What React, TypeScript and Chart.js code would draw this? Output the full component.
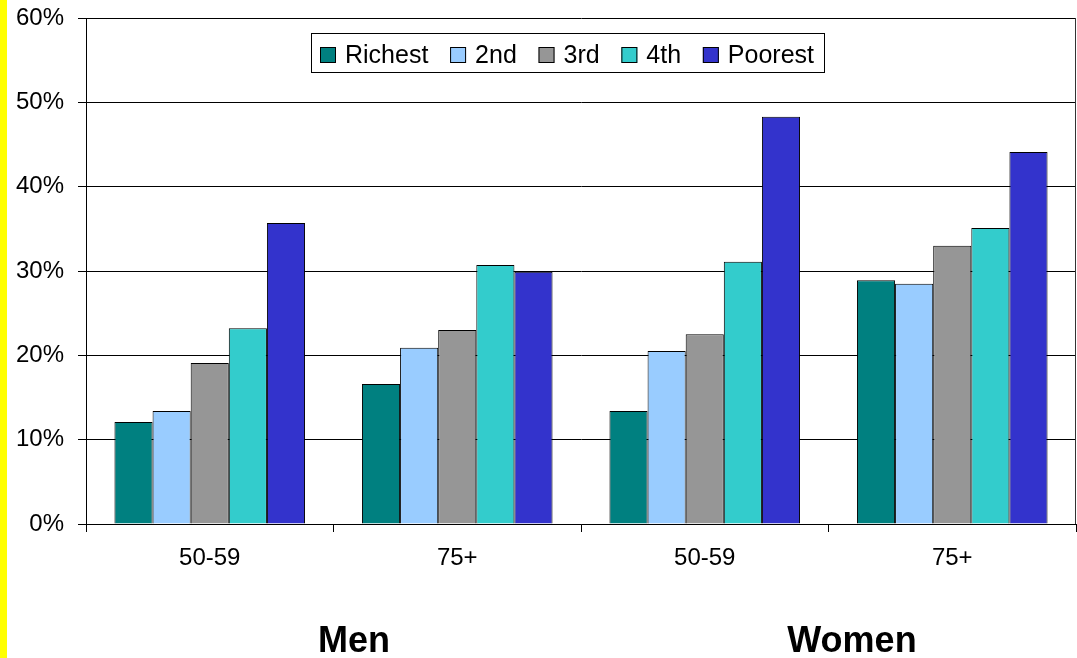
import React, { useEffect, useRef } from "react";
import { Chart, registerables } from "chart.js";

Chart.register(...registerables);

const categories = ["50-59", "75+", "50-59", "75+"];
const richest = [12.1, 16.6, 13.4, 28.9];
const second = [13.4, 20.9, 20.5, 28.5];
const third = [19.1, 23.0, 22.5, 33.0];
const fourth = [23.2, 30.7, 31.1, 35.1];
const poorest = [35.7, 29.9, 48.3, 44.1];
const seriesNames = ["Richest", "2nd", "3rd", "4th", "Poorest"];
const seriesColors = ["#008080", "#99CCFF", "#969696", "#33CCCC", "#3333CC"];
const groupLabels = ["Men", "Women"];
const yMin = 0;
const yMax = 60;
const yStep = 10;

const FONT = "Arial, 'Liberation Sans', sans-serif";

const boxLegendPlugin = {
  id: "boxLegend",
  afterDatasetsDraw(chart: any) {
    const { ctx, chartArea } = chart;
    const left = chartArea.left + 225;
    const top = chartArea.top + 15;
    const width = 513;
    const height = 39;
    ctx.save();
    ctx.fillStyle = "#fff";
    ctx.fillRect(left, top, width, height);
    ctx.strokeStyle = "#000";
    ctx.lineWidth = 1;
    ctx.strokeRect(left + 0.5, top + 0.5, width, height);
    ctx.font = `25px ${FONT}`;
    ctx.textBaseline = "alphabetic";
    const ds = chart.data.datasets;
    const sq = 16;
    const gap = 9;
    const padL = 9;
    const padR = 10;
    const widths = ds.map((d: any) => ctx.measureText(d.label).width);
    const used = widths.reduce((a: number, b: number) => a + b, 0) + ds.length * (sq + gap);
    const itemGap = (width - padL - padR - used) / (ds.length - 1);
    let x = left + padL;
    const cy = top + 22;
    ds.forEach((d: any, i: number) => {
      ctx.fillStyle = d.backgroundColor;
      ctx.fillRect(x, cy - sq / 2, sq, sq);
      ctx.strokeStyle = "#000";
      ctx.strokeRect(x + 0.5, cy - sq / 2 + 0.5, sq - 1, sq - 1);
      x += sq + gap;
      ctx.fillStyle = "#000";
      ctx.fillText(d.label, x, top + 30);
      x += widths[i] + itemGap;
    });
    ctx.restore();
  },
};

const frameAndGroupsPlugin = {
  id: "frameAndGroups",
  afterDraw(chart: any) {
    const { ctx, chartArea } = chart;
    ctx.save();
    ctx.strokeStyle = "#333";
    ctx.lineWidth = 1;
    ctx.beginPath();
    ctx.moveTo(chartArea.right - 0.5, chartArea.top);
    ctx.lineTo(chartArea.right - 0.5, chartArea.bottom);
    ctx.stroke();
    ctx.fillStyle = "#000";
    ctx.font = `bold 36px ${FONT}`;
    ctx.textAlign = "center";
    ctx.textBaseline = "alphabetic";
    const w = chartArea.right - chartArea.left;
    const fr = [0.2707, 0.7737];
    groupLabels.forEach((g, i) => {
      ctx.fillText(g, chartArea.left + w * fr[i], 652);
    });
    ctx.restore();
  },
};

export default function App() {
  const ref = useRef<HTMLCanvasElement | null>(null);
  useEffect(() => {
    if (!ref.current) return;
    const series = [richest, second, third, fourth, poorest];
    const chart = new Chart(ref.current, {
      type: "bar",
      data: {
        labels: categories,
        datasets: series.map((s, i) => ({
          label: seriesNames[i],
          data: s,
          backgroundColor: seriesColors[i],
          borderColor: "#000",
          borderWidth: 1,
          categoryPercentage: 0.77,
          barPercentage: 1.0,
        })),
      },
      options: {
        animation: false,
        responsive: true,
        maintainAspectRatio: false,
        layout: { padding: { top: 18, right: 1, left: 0, bottom: 0 } },
        plugins: {
          legend: { display: false },
          tooltip: { enabled: false },
        },
        scales: {
          x: {
            grid: {
              drawOnChartArea: false,
              drawTicks: true,
              tickLength: 8,
              color: "#000",
            },
            border: { display: true, color: "#000" },
            ticks: {
              color: "#000",
              font: { family: FONT, size: 24 },
              padding: 12,
            },
            afterFit(scale: any) {
              scale.height = 134;
              scale.paddingLeft = 0;
              scale.paddingRight = 0;
            },
          },
          y: {
            min: yMin,
            max: yMax,
            grid: { color: "#000", tickLength: 8, drawTicks: true },
            border: { display: true, color: "#000" },
            ticks: {
              stepSize: yStep,
              color: "#000",
              font: { family: FONT, size: 24 },
              padding: 14,
              callback: (v: any) => `${v}%`,
            },
            afterFit(scale: any) {
              scale.width = 86;
              scale.paddingTop = 0;
              scale.paddingBottom = 0;
            },
          },
        },
      },
      plugins: [boxLegendPlugin, frameAndGroupsPlugin],
    });
    return () => chart.destroy();
  }, []);

  return (
    <div
      style={{
        position: "fixed",
        left: 0,
        top: 0,
        width: 1077,
        height: 658,
        background: "#fff",
      }}
    >
      <canvas ref={ref} />
      <div
        style={{
          position: "absolute",
          left: 0,
          top: 0,
          width: 7,
          height: 658,
          background: "#FFFF00",
        }}
      />
    </div>
  );
}
